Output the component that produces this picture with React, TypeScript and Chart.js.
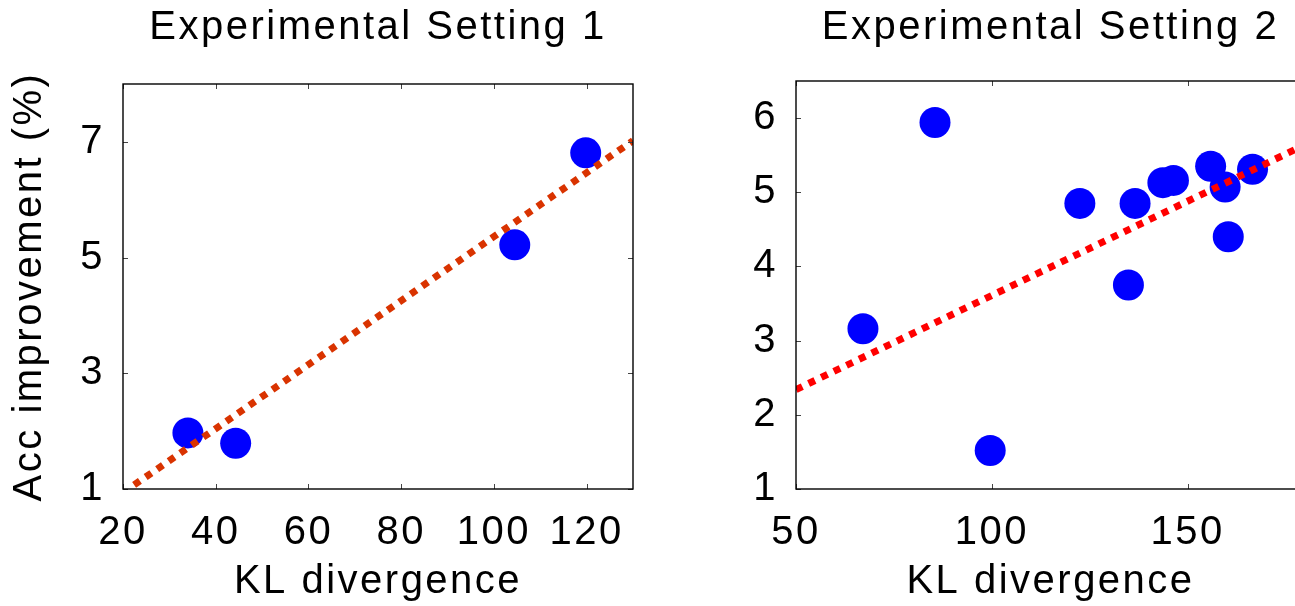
import React, { useEffect, useRef } from "react";
import { Chart, registerables } from "chart.js";

Chart.register(...registerables);

// ---- Data ----
const setting1KL = [34.0, 44.3, 104.5, 119.8];
const setting1Acc = [1.97, 1.79, 5.22, 6.81];
const setting1FitKL = [22.4, 130];
const setting1FitAcc = [1.07, 7.02];
const setting1XTicks = [20, 40, 60, 80, 100, 120];
const setting1YTicks = [1, 3, 5, 7];

const setting2KL = [67.1, 85.5, 99.6, 122.5, 134.9, 136.6, 143.7, 146.4, 155.9, 159.6, 160.4, 166.6];
const setting2Acc = [3.16, 5.94, 1.52, 4.85, 3.75, 4.85, 5.13, 5.16, 5.35, 5.07, 4.4, 5.31];
const setting2FitKL = [50, 180];
const setting2FitAcc = [2.34, 5.64];
const setting2XTicks = [50, 100, 150];
const setting2YTicks = [1, 2, 3, 4, 5, 6];

const title1 = "Experimental Setting 1";
const title2 = "Experimental Setting 2";
const xLabel = "KL divergence";
const yLabel = "Acc improvement (%)";

const FAMILY = "'Liberation Sans', Arial, Helvetica, sans-serif";
const FONT = { family: FAMILY, size: 40, weight: "normal" as const };

const spacingPlugin = {
  id: "spacing",
  beforeDraw(chart: any) {
    (chart.ctx as any).letterSpacing = "2.5px";
  },
  afterDraw(chart: any) {
    (chart.ctx as any).letterSpacing = "0px";
  },
};

const boxPlugin = {
  id: "matlabBox",
  afterDraw(chart: any, _args: any, opts: any) {
    const { ctx, chartArea } = chart;
    const { left, right, top, bottom } = chartArea;
    const xs = chart.scales.x;
    const ys = chart.scales.y;
    ctx.save();
    ctx.letterSpacing = "0px";
    ctx.strokeStyle = "#444";
    ctx.lineWidth = 1;
    const tl = 5;
    ctx.beginPath();
    for (const v of opts.xTicks as number[]) {
      const p = Math.round(xs.getPixelForValue(v)) + 0.5;
      ctx.moveTo(p, bottom);
      ctx.lineTo(p, bottom - tl);
      ctx.moveTo(p, top);
      ctx.lineTo(p, top + tl);
    }
    for (const v of opts.yTicks as number[]) {
      const p = Math.round(ys.getPixelForValue(v)) + 0.5;
      ctx.moveTo(left, p);
      ctx.lineTo(left + tl, p);
      ctx.moveTo(right, p);
      ctx.lineTo(right - tl, p);
    }
    ctx.stroke();
    ctx.strokeStyle = "#000";
    ctx.lineWidth = 1.4;
    ctx.strokeRect(left, top, right - left, bottom - top);
    ctx.restore();
  },
};

type PanelProps = {
  left: number;
  width: number;
  title: string;
  kl: number[];
  acc: number[];
  fitKL: number[];
  fitAcc: number[];
  xTicks: number[];
  yTicks: number[];
  xMin: number;
  xMax: number;
  yMin: number;
  yMax: number;
  yAxisWidth: number;
  padRight: number;
  titlePadBottom: number;
  fitColor: string;
  showYLabel: boolean;
};

function Panel(p: PanelProps) {
  const ref = useRef<HTMLCanvasElement>(null);
  useEffect(() => {
    const chart = new Chart(ref.current as HTMLCanvasElement, {
      type: "scatter",
      data: {
        datasets: [
          {
            label: "fit",
            data: p.fitKL.map((x, i) => ({ x, y: p.fitAcc[i] })),
            showLine: true,
            borderColor: p.fitColor,
            borderWidth: 7,
            borderDash: [7, 7],
            borderCapStyle: "butt",
            pointRadius: 0,
            pointHoverRadius: 0,
            fill: false,
            order: 0,
          } as any,
          {
            label: "runs",
            data: p.kl.map((x, i) => ({ x, y: p.acc[i] })),
            backgroundColor: "#0000ff",
            borderWidth: 0,
            pointRadius: 15.5,
            pointHoverRadius: 15.5,
            order: 1,
          } as any,
        ],
      },
      options: {
        responsive: false,
        animation: false,
        events: [],
        layout: { padding: { left: 0, right: p.padRight, top: 0, bottom: 0 } },
        plugins: {
          legend: { display: false },
          tooltip: { enabled: false },
          title: {
            display: true,
            text: p.title,
            color: "#000",
            font: FONT,
            fullSize: false,
            padding: { top: 4, bottom: p.titlePadBottom },
          },
          matlabBox: { xTicks: p.xTicks, yTicks: p.yTicks },
        } as any,
        scales: {
          x: {
            type: "linear",
            position: "bottom",
            min: p.xMin,
            max: p.xMax,
            grid: { display: false },
            border: { display: false },
            ticks: { color: "#000", font: FONT, padding: 12, maxRotation: 0, autoSkip: false },
            afterBuildTicks: (s: any) => {
              s.ticks = p.xTicks.map((v) => ({ value: v }));
            },
            afterFit: (s: any) => {
              s.height = 117;
            },
            title: {
              display: true,
              text: xLabel,
              color: "#000",
              font: FONT,
              padding: { top: 0, bottom: 0 },
            },
          },
          y: {
            type: "linear",
            position: "left",
            min: p.yMin,
            max: p.yMax,
            grid: { display: false },
            border: { display: false },
            ticks: { color: "#000", font: FONT, padding: 10, autoSkip: false },
            afterBuildTicks: (s: any) => {
              s.ticks = p.yTicks.map((v) => ({ value: v }));
            },
            afterFit: (s: any) => {
              s.width = p.yAxisWidth;
            },
            title: {
              display: p.showYLabel,
              text: yLabel,
              color: "#000",
              font: FONT,
              padding: { top: 6, bottom: 0 },
            },
          },
        },
      },
      plugins: [spacingPlugin, boxPlugin],
    } as any);
    return () => chart.destroy();
  }, []);
  return (
    <canvas
      ref={ref}
      width={p.width}
      height={606}
      style={{ position: "absolute", left: p.left, top: 0, width: p.width, height: 606, display: "block" }}
    />
  );
}

export default function App() {
  return (
    <div
      style={{
        position: "absolute",
        left: 0,
        top: 0,
        width: 1295,
        height: 606,
        overflow: "hidden",
        background: "#fff",
      }}
    >
      <Panel
        left={0}
        width={680}
        title={title1}
        kl={setting1KL}
        acc={setting1Acc}
        fitKL={setting1FitKL}
        fitAcc={setting1FitAcc}
        xTicks={setting1XTicks}
        yTicks={setting1YTicks}
        xMin={20}
        xMax={130}
        yMin={1}
        yMax={8}
        yAxisWidth={123}
        padRight={47}
        titlePadBottom={32}
        fitColor="#d93300"
        showYLabel={true}
      />
      <Panel
        left={680}
        width={700}
        title={title2}
        kl={setting2KL}
        acc={setting2Acc}
        fitKL={setting2FitKL}
        fitAcc={setting2FitAcc}
        xTicks={setting2XTicks}
        yTicks={setting2YTicks}
        xMin={50}
        xMax={180}
        yMin={1}
        yMax={6.5}
        yAxisWidth={116}
        padRight={75}
        titlePadBottom={29}
        fitColor="#ff0000"
        showYLabel={false}
      />
    </div>
  );
}
